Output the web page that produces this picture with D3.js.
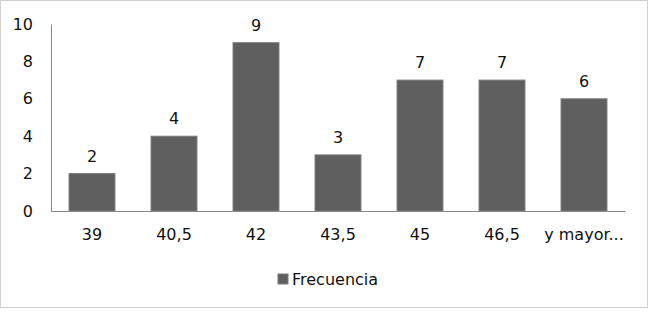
<!DOCTYPE html>
<html>
<head>
<meta charset="utf-8">
<script src="https://cdn.jsdelivr.net/npm/d3@7"></script>
<style>
  body { margin: 0; background: #fff; }
  text { font-family: "DejaVu Sans", Verdana, sans-serif; font-size: 16px; fill: #111; }
</style>
</head>
<body>
<svg id="chart" width="650" height="313"></svg>
<script>
/* ===== DATA ===== */
const categories = ["39", "40,5", "42", "43,5", "45", "46,5", "y mayor..."];
const frecuencia = [2, 4, 9, 3, 7, 7, 6];
const yTicks = [0, 2, 4, 6, 8, 10];
const seriesName = "Frecuencia";

/* ===== SETUP ===== */
const svg = d3.select("#chart");
const margin = { left: 51, right: 25, top: 24, bottom: 102 };
const width = 650, height = 313;

// outer frame
svg.append("rect")
  .attr("x", 0.5).attr("y", 0.5)
  .attr("width", 647).attr("height", 307)
  .attr("fill", "#fff")
  .attr("stroke", "#d0d0d0");

const x = d3.scaleBand()
  .domain(categories)
  .range([margin.left, width - margin.right])
  .paddingInner(0.44)
  .paddingOuter(0.22);

const y = d3.scaleLinear()
  .domain([0, 10])
  .range([height - margin.bottom, margin.top]);

/* ===== BARS ===== */
svg.append("g")
  .selectAll("rect")
  .data(frecuencia)
  .join("rect")
  .attr("x", (d, i) => x(categories[i]))
  .attr("y", (d) => y(d))
  .attr("width", x.bandwidth())
  .attr("height", (d) => y(0) - y(d))
  .attr("fill", "#5f5f5f")
  .attr("stroke", "#7a7a7a")
  .attr("stroke-width", 1);

// value labels
svg.append("g")
  .selectAll("text")
  .data(frecuencia)
  .join("text")
  .attr("x", (d, i) => x(categories[i]) + x.bandwidth() / 2)
  .attr("y", (d) => y(d) - 12)
  .attr("text-anchor", "middle")
  .text((d) => d);

/* ===== AXES ===== */
const yAxis = svg.append("g")
  .attr("transform", `translate(${margin.left},0)`)
  .call(d3.axisLeft(y).tickValues(yTicks).tickSize(0).tickPadding(18));
yAxis.select(".domain").attr("stroke", "#888");
yAxis.selectAll("text")
  .style("font-family", "DejaVu Sans, Verdana, sans-serif")
  .style("font-size", "16px")
  .attr("fill", "#111");

const xAxis = svg.append("g")
  .attr("transform", `translate(0,${y(0)})`)
  .call(d3.axisBottom(x).tickSize(0).tickPadding(18));
xAxis.select(".domain").attr("stroke", "#888");
xAxis.selectAll("text")
  .style("font-family", "DejaVu Sans, Verdana, sans-serif")
  .style("font-size", "16px")
  .attr("fill", "#111");

/* ===== LEGEND ===== */
const legend = svg.append("g").attr("transform", "translate(278,274)");
legend.append("rect")
  .attr("width", 10).attr("height", 10)
  .attr("fill", "#5f5f5f")
  .attr("stroke", "#7a7a7a");
legend.append("text")
  .attr("x", 14).attr("y", 11)
  .text(seriesName);
</script>
</body>
</html>
